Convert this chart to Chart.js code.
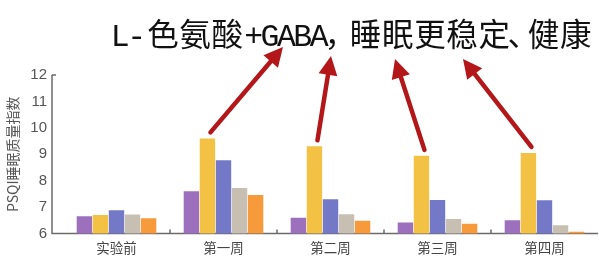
<!DOCTYPE html>
<html>
<head>
<meta charset="utf-8">
<script src="https://cdn.jsdelivr.net/npm/chart.js@4/dist/chart.umd.min.js"></script>
<style>
  html, body { margin: 0; padding: 0; background: #fff; }
  #wrap { width: 599px; height: 261px; position: relative; }
</style>
</head>
<body>
<div id="wrap"><canvas id="chart"></canvas></div>
<script>
// 数据
const categories = ['实验前', '第一周', '第二周', '第三周', '第四周'];
const seriesA = [6.65, 7.6, 6.6, 6.42, 6.5];
const seriesB = [6.7, 9.6, 9.3, 8.94, 9.05];
const seriesC = [6.88, 8.77, 7.3, 7.27, 7.26];
const seriesD = [6.72, 7.72, 6.73, 6.55, 6.31];
const seriesE = [6.58, 7.46, 6.48, 6.37, 6.07];
const yTicks = [6, 7, 8, 9, 10, 11, 12];

const titleText = 'L- 色氨酸 +GABA，睡眠更稳定、健康';
const yTitle = 'PSQI睡眠质量指数';

// 箭头终点（标题文字下方）
const arrowTips = [[283, 47], [331, 56], [395, 59], [463, 59]];

const colors = ['#9c70bd', '#f3c245', '#7479c7', '#c7c0b2', '#f69a3b'];

// 标题按等宽网格逐字绘制：半角 / 全角 / 标点
function charAdvance(ch) {
    if (ch === ' ') return 2;
    if (ch === '，') return 22;
    if (ch === '、') return 17;
    return ch.charCodeAt(0) > 0x2e80 ? 32.2 : 16.4;
}

// 自定义绘制：标题、坐标轴线、箭头
const decoPlugin = {
    id: 'deco',
    beforeDatasetsDraw(chart) {
        const { ctx, chartArea, scales } = chart;
        const x0 = chartArea.left - 11;
        const yTop = scales.y.getPixelForValue(12);
        ctx.save();
        ctx.strokeStyle = '#6b6b6b';
        ctx.lineWidth = 1.5;
        ctx.beginPath();
        ctx.moveTo(x0, yTop);
        ctx.lineTo(x0, chartArea.bottom);
        ctx.lineTo(chartArea.right, chartArea.bottom);
        ctx.stroke();
        ctx.beginPath();
        ctx.moveTo(x0, yTop);
        ctx.lineTo(x0 + 4, yTop);
        ctx.stroke();
        // 分类分隔刻度
        for (let i = 0; i < categories.length - 1; i++) {
            const xm = (scales.x.getPixelForValue(i) + scales.x.getPixelForValue(i + 1)) / 2;
            ctx.beginPath();
            ctx.moveTo(xm, chartArea.bottom);
            ctx.lineTo(xm, chartArea.bottom - 4);
            ctx.stroke();
        }
        ctx.restore();
    },
    afterDatasetsDraw(chart) {
        const { ctx } = chart;
        const meta = chart.getDatasetMeta(1);
        ctx.save();
        ctx.strokeStyle = '#b3171a';
        ctx.fillStyle = '#b3171a';
        ctx.lineWidth = 4.5;
        ctx.lineCap = 'round';
        arrowTips.forEach((tip, i) => {
            const bar = meta.data[i + 1];
            const bx = bar.x + 3, by = bar.y - 6;
            const [tx, ty] = tip;
            const ang = Math.atan2(ty - by, tx - bx);
            const headLen = 19, headW = 9.5;
            const hx = tx - headLen * Math.cos(ang);
            const hy = ty - headLen * Math.sin(ang);
            ctx.beginPath();
            ctx.moveTo(bx, by);
            ctx.lineTo(hx + 3 * Math.cos(ang), hy + 3 * Math.sin(ang));
            ctx.stroke();
            ctx.beginPath();
            ctx.moveTo(tx, ty);
            ctx.lineTo(hx + headW * Math.sin(ang), hy - headW * Math.cos(ang));
            ctx.lineTo(hx - headW * Math.sin(ang), hy + headW * Math.cos(ang));
            ctx.closePath();
            ctx.fill();
        });
        ctx.restore();
    },
    afterDraw(chart) {
        const { ctx } = chart;
        ctx.save();
        ctx.fillStyle = '#111';
        ctx.textAlign = 'left';
        ctx.textBaseline = 'alphabetic';
        let x = 112;
        for (const ch of titleText) {
            const adv = charAdvance(ch);
            const wide = ch.charCodeAt(0) > 0x2e80;
            ctx.font = wide ? '31.5px "Noto Sans CJK SC"' : '31.5px "Liberation Mono"';
            const w = ctx.measureText(ch).width;
            const dx = (ch === '，' || ch === '、') ? -3 : (adv - w) / 2;
            ctx.fillText(ch, x + dx, 46);
            x += adv;
        }
        ctx.restore();
    }
};

const seriesList = [seriesA, seriesB, seriesC, seriesD, seriesE];

new Chart(document.getElementById('chart'), {
    type: 'bar',
    data: {
        labels: categories,
        datasets: seriesList.map((s, i) => ({
            label: 'S' + (i + 1),
            data: s,
            backgroundColor: colors[i],
            borderWidth: 0,
            categoryPercentage: 0.75,
            barPercentage: 0.96
        }))
    },
    options: {
        responsive: true,
        maintainAspectRatio: false,
        animation: false,
        layout: { padding: { top: 75, right: 1, left: 0, bottom: 0 } },
        plugins: {
            legend: { display: false },
            tooltip: { enabled: false }
        },
        scales: {
            x: {
                grid: { display: false, drawTicks: false },
                border: { display: false },
                ticks: {
                    padding: 6,
                    color: '#444',
                    font: { family: '"Noto Sans CJK SC"', size: 13.5 }
                },
                afterFit(scale) { scale.height = 27.5; }
            },
            y: {
                min: 6,
                max: 12,
                afterBuildTicks(scale) { scale.ticks = yTicks.map(v => ({ value: v })); },
                grid: { display: false, drawTicks: false },
                border: { display: false },
                ticks: {
                    padding: 16,
                    color: '#555',
                    font: { family: '"Liberation Sans", Arial', size: 15 }
                },
                title: {
                    display: true,
                    text: yTitle,
                    color: '#555',
                    padding: { top: 4, bottom: 0 },
                    font: { family: '"Noto Sans CJK SC"', size: 14 }
                },
                afterFit(scale) { scale.width = 63; }
            }
        }
    },
    plugins: [decoPlugin]
});
</script>
</body>
</html>
